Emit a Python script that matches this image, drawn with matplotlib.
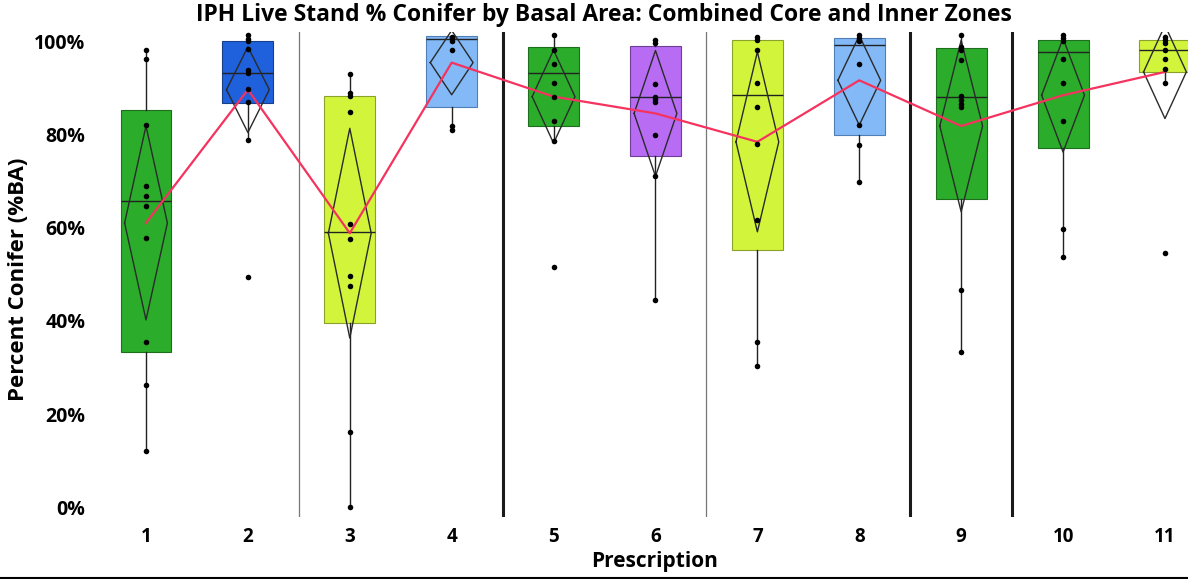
import matplotlib
matplotlib.use('Agg')
import matplotlib.pyplot as plt
from matplotlib.lines import Line2D
from matplotlib.ticker import FuncFormatter

prescriptions = [1, 2, 3, 4, 5, 6, 7, 8, 9, 10, 11]
tick_labels = ['1', '2', '3', '4', '5', '6', '7', '8', '9', '10', '11']

q1 = [33.3, 86.8, 39.5, 85.8, 81.8, 75.3, 55.2, 79.8, 66.1, 77.1, 93.3]
medians = [65.7, 93.2, 59.1, 100.5, 93.2, 88.1, 88.4, 99.1, 88.1, 97.6, 98.1]
q3 = [85.2, 100.1, 88.3, 101.1, 98.8, 98.9, 100.2, 100.6, 98.6, 100.2, 100.2]
whisker_low = [12.1, 78.9, 0.0, 80.9, 78.6, 44.5, 30.3, 69.7, 33.3, 53.6, 91.1]
whisker_high = [98.1, 101.3, 92.9, 101.1, 101.3, 100.2, 101.0, 101.3, 101.3, 101.3, 101.3]
means = [61.0, 89.6, 58.8, 95.4, 88.1, 84.5, 78.4, 91.6, 81.8, 88.4, 93.4]
mean_ci = [20.8, 9.2, 22.5, 6.9, 10.0, 13.5, 19.3, 9.6, 18.4, 12.2, 10.0]
outliers = [[], [49.4], [], [], [51.6], [], [], [], [], [], [54.6]]

points = [
    [98.1, 96.1, 82.0, 68.9, 66.7, 64.7, 57.7, 35.4, 26.2, 12.1],
    [101.3, 100.5, 100.0, 98.3, 93.8, 93.2, 89.8, 87.0, 78.9, 49.4],
    [92.9, 88.9, 88.3, 84.8, 60.7, 57.6, 49.6, 47.4, 16.2, 0.0],
    [101.0, 100.6, 100.1, 98.1, 81.8, 80.9],
    [101.3, 98.1, 95.0, 91.1, 88.1, 82.9, 78.6, 51.6],
    [100.2, 99.5, 90.9, 88.1, 87.5, 87.0, 79.8, 71.0, 44.5],
    [101.0, 100.2, 98.1, 91.1, 85.9, 77.9, 61.6, 35.4, 30.3],
    [101.3, 100.6, 100.0, 95.0, 82.0, 77.8, 69.7],
    [101.3, 98.8, 98.1, 95.9, 88.2, 87.4, 86.6, 85.8, 46.6, 33.3],
    [101.3, 100.6, 100.0, 96.1, 91.1, 82.9, 59.6, 53.6],
    [101.0, 100.3, 99.5, 98.1, 96.1, 94.0, 91.1, 54.6],
]

box_colors = ['#2bac2b', '#1f60dc', '#d2f53c', '#82b9f6', '#2bac2b', '#b76cf3',
              '#d2f53c', '#82b9f6', '#2bac2b', '#2bac2b', '#d2f53c']
edge_colors = ['#1d6e1d', '#1a3f8a', '#8aa22a', '#4f7fb5', '#1d6e1d', '#6e3f96',
               '#8aa22a', '#4f7fb5', '#1d6e1d', '#1d6e1d', '#8aa22a']

thin_separators = [2.5, 6.5]
thick_separators = [4.5, 8.5, 9.5]


def build_stats():
    stats = []
    for i in range(len(prescriptions)):
        stats.append({
            'q1': q1[i], 'med': medians[i], 'q3': q3[i],
            'whislo': whisker_low[i], 'whishi': whisker_high[i],
            'fliers': outliers[i], 'label': tick_labels[i],
        })
    return stats


def draw_boxes(ax):
    bp = ax.bxp(build_stats(), positions=prescriptions, widths=0.5,
                patch_artist=True, showcaps=False, showfliers=False,
                boxprops={'linewidth': 0.8},
                whiskerprops={'color': '#222222', 'linewidth': 1.0},
                medianprops={'color': '#222222', 'linewidth': 1.0})
    for patch, fc, ec in zip(bp['boxes'], box_colors, edge_colors):
        patch.set_facecolor(fc)
        patch.set_edgecolor(ec)


def draw_diamonds(ax, half_width=0.21):
    for x, m, c in zip(prescriptions, means, mean_ci):
        xs = [x - half_width, x, x + half_width, x, x - half_width]
        ys = [m, m + c, m, m - c, m]
        ax.plot(xs, ys, color='#2a2a2a', linewidth=1.0, zorder=4)


def draw_points(ax):
    for x, vals in zip(prescriptions, points):
        ax.scatter([x] * len(vals), vals, s=16, color='black', zorder=6,
                   linewidths=0)


def main():
    plt.rcParams['font.family'] = ['Open Sans', 'DejaVu Sans']
    fig = plt.figure(figsize=(11.88, 5.79), dpi=100)
    ax = fig.add_axes([0.080, 0.107, 0.920, 0.838])

    for xs in thin_separators:
        ax.axvline(xs, color='#777777', linewidth=0.9, zorder=1)
    for xs in thick_separators:
        ax.axvline(xs, color='#1a1a1a', linewidth=2.2, zorder=1)

    draw_boxes(ax)
    draw_diamonds(ax)
    ax.plot(prescriptions, means, color='#f5335e', linewidth=1.6, zorder=5)
    draw_points(ax)

    ax.set_xlim(0.5, 11.226)
    ax.set_ylim(-2.1, 102)
    ax.set_xticks(prescriptions)
    ax.set_xticklabels(tick_labels, fontsize=13.5, fontweight='bold')
    ax.set_yticks([0, 20, 40, 60, 80, 100])
    ax.yaxis.set_major_formatter(FuncFormatter(lambda v, p: '%d%%' % v))
    for lab in ax.get_yticklabels():
        lab.set_fontsize(14)
        lab.set_fontweight('bold')
    ax.tick_params(length=0, pad=7)
    for s in ax.spines.values():
        s.set_visible(False)

    ax.set_xlabel('Prescription', fontsize=15, fontweight='bold')
    ax.xaxis.set_label_coords(0.512, -0.069)
    ax.set_ylabel('Percent Conifer (%BA)', fontsize=16, fontweight='bold')
    ax.yaxis.set_label_coords(-0.060, 0.49)
    fig.text(0.508, 0.974, 'IPH Live Stand % Conifer by Basal Area: Combined Core and Inner Zones',
             ha='center', va='center', fontsize=16.5, fontweight='bold')
    fig.add_artist(Line2D([0, 1], [0.002, 0.002], color='black', linewidth=1.5,
                          transform=fig.transFigure))

    fig.savefig('out.png', dpi=100)


if __name__ == '__main__':
    main()
